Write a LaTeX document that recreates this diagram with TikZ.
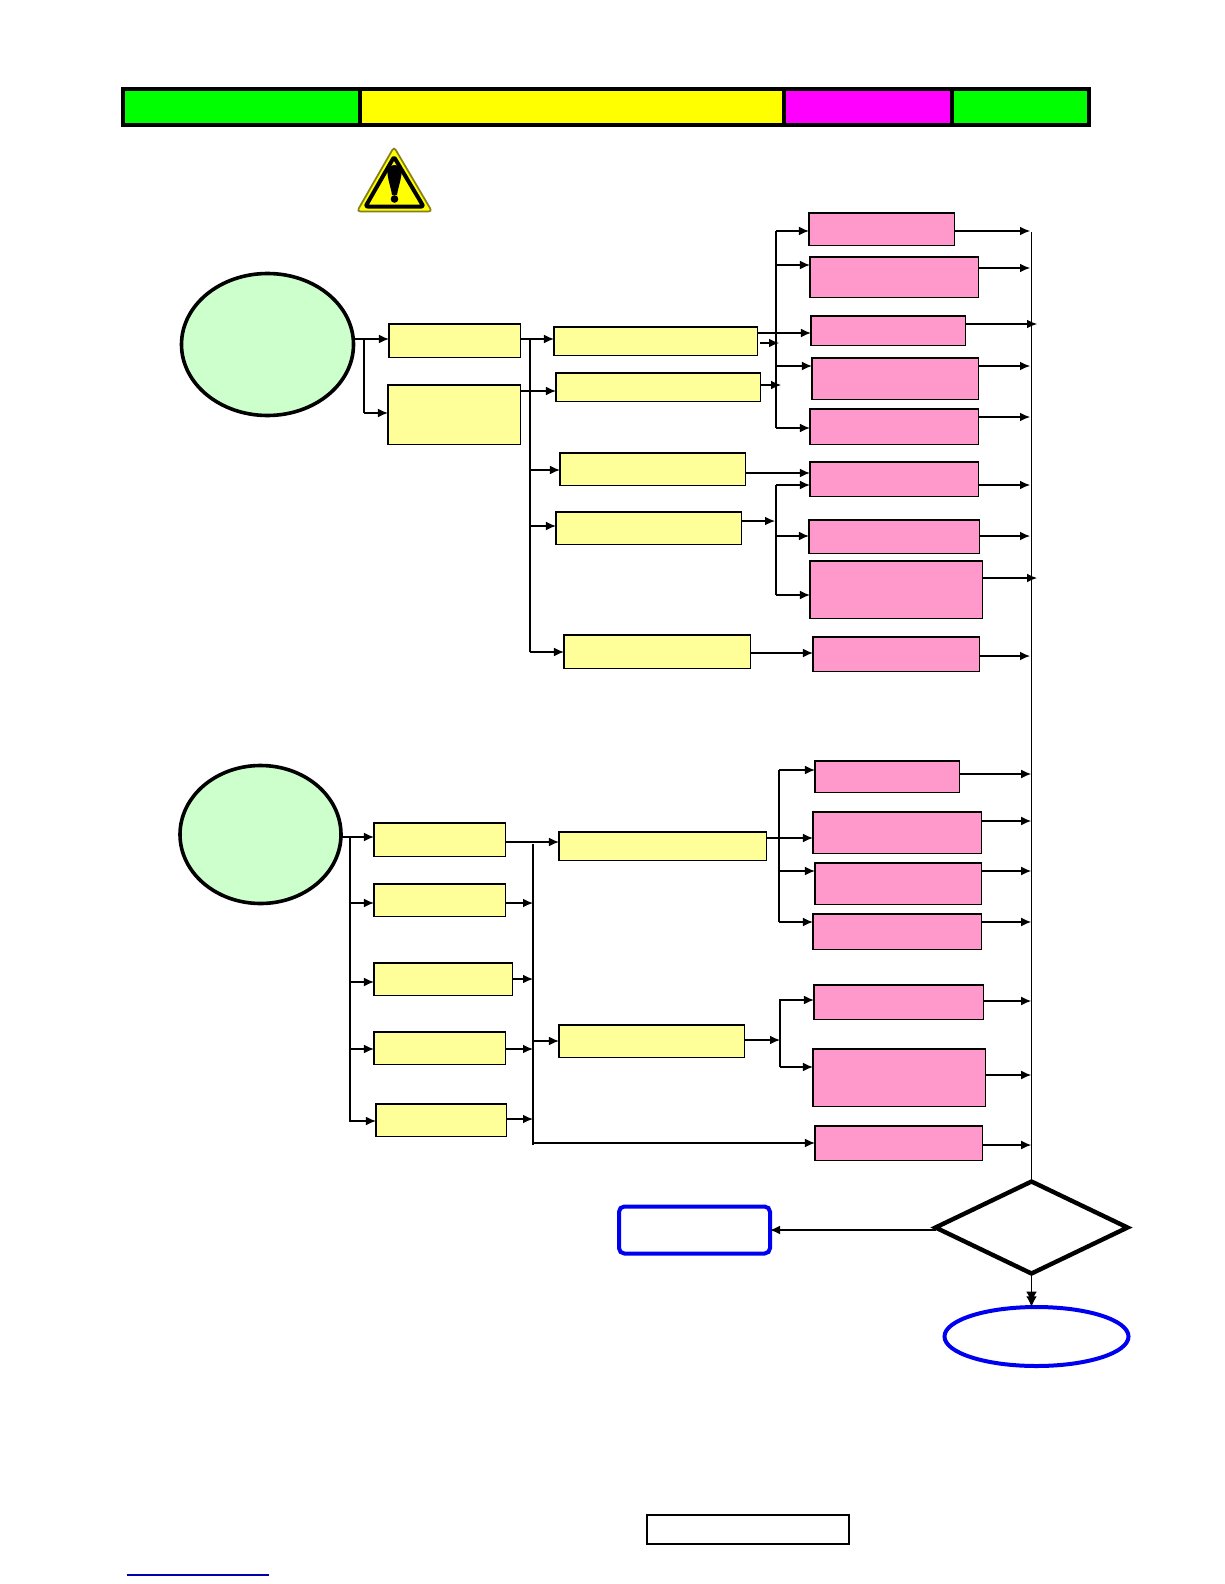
\documentclass[tikz,border=0pt]{standalone}
\usetikzlibrary{arrows.meta,shapes.geometric}
\definecolor{ybox}{HTML}{FFFF99}
\definecolor{pbox}{HTML}{FF99CC}
\definecolor{gell}{HTML}{CCFFCC}
\definecolor{lblue}{HTML}{0000F0}
\definecolor{darkline}{HTML}{0000A8}
\definecolor{olive}{HTML}{85801A}
\definecolor{hgreen}{RGB}{0,255,0}
\definecolor{hyellow}{RGB}{255,255,0}
\definecolor{hmag}{RGB}{255,0,255}
\newcommand{\bx}[6]{\node[#6,minimum width={(#4-#2-1.2)*0.75pt},minimum height={(#5-#3-1.2)*0.75pt}] (#1) at ({(#2+#4)/2+0.3},{(#3+#5)/2+0.3}) {};}
% horizontal connector at height #3 between two named things
\newcommand{\cn}[3]{\draw[arr] (#1 |- 0,#3) -- (#2 |- 0,#3);}
\tikzset{
  x=0.75pt,y=-0.75pt,
  base/.style={rectangle,draw=black,inner sep=0pt,outer sep=0pt,line width=1.05pt},
  ybx/.style={base,fill=ybox},
  pbx/.style={base,fill=pbox},
  hdr/.style={rectangle,draw=black,inner sep=0pt,outer sep=0pt,line width=3pt},
  gel/.style={ellipse,draw=black,fill=gell,inner sep=0pt,outer sep=0pt,line width=2.7pt},
  line/.style={draw=black,line width=0.85pt},
  trunk/.style={draw=black,line width=0.8pt},
  arr/.style={line,-{Latex[length=7.5pt,width=6.5pt]}},
}
\begin{document}
\begin{tikzpicture}
\useasboundingbox (0,0) rectangle (1224,1584);
% header
\bx{h1}{122}{88.5}{360}{125}{hdr,fill=hgreen}
\bx{h2}{359.5}{88.5}{784}{125}{hdr,fill=hyellow}
\bx{h3}{783.5}{88.5}{952}{125}{hdr,fill=hmag}
\bx{h4}{951.5}{88.5}{1089}{125}{hdr,fill=hgreen}
% warning sign
\draw[draw=olive,fill=hyellow,line width=1.3pt,rounded corners=2.5pt] (394,147) -- (432,211.5) -- (357,211.5) -- cycle;
\draw[draw=black,fill=hyellow,line width=3pt,line join=round,rounded corners=1.5pt] (394,157) -- (423.5,206.5) -- (365.5,206.5) -- cycle;
\fill[black] (394.5,165) .. controls (388,165) and (387,170) .. (387.5,174) .. controls (388.5,182) and (391.5,190) .. (392,195) -- (397,195) .. controls (397.5,190) and (400.5,182) .. (401.5,174) .. controls (402,170) and (401,165) .. (394.5,165) -- cycle;
\fill[black] (394.5,199) circle[radius=3.8];
% upper group
\node[gel,minimum width={172*0.75pt},minimum height={142*0.75pt}] (E1) at (267.5,344.5) {};
\bx{Y1}{388}{323}{521}{358}{ybx}
\bx{Y2}{387}{384}{521}{445}{ybx}
\bx{Y3}{553}{326}{758}{356}{ybx}
\bx{Y4}{555}{372}{761}{402}{ybx}
\bx{Y5}{559}{452}{746}{486}{ybx}
\bx{Y6}{555}{511}{742}{545}{ybx}
\bx{Y7}{563}{634}{751}{669}{ybx}
\bx{P1}{808}{212}{955}{246}{pbx}
\bx{P2}{809}{256}{979}{298}{pbx}
\bx{P3}{810}{315}{966}{346}{pbx}
\bx{P4}{811}{357}{979}{400}{pbx}
\bx{P5}{809}{408}{979}{445}{pbx}
\bx{P6}{809}{461}{979}{497}{pbx}
\bx{P7}{808}{519}{980}{554}{pbx}
\bx{P8}{809}{560}{983}{619}{pbx}
\bx{P9}{812}{636}{980}{672}{pbx}
% lower group
\node[gel,minimum width={161*0.75pt},minimum height={138*0.75pt}] (E2) at (260.5,834.5) {};
\bx{A}{373}{822}{506}{857}{ybx}
\bx{B}{373}{883}{506}{917}{ybx}
\bx{C}{373}{962}{513}{996}{ybx}
\bx{D}{373}{1031}{506}{1065}{ybx}
\bx{EE}{375}{1103}{507}{1137}{ybx}
\bx{F}{558}{831}{767}{861}{ybx}
\bx{G}{558}{1024}{745}{1058}{ybx}
\bx{Q1}{814}{760}{960}{793}{pbx}
\bx{Q2}{812}{811}{982}{854}{pbx}
\bx{Q3}{814}{862}{982}{905}{pbx}
\bx{Q4}{812}{913}{982}{950}{pbx}
\bx{Q5}{813}{984}{984}{1020}{pbx}
\bx{Q6}{812}{1048}{986}{1107}{pbx}
\bx{Q7}{814}{1125}{983}{1161}{pbx}
% end shapes
\node[diamond,draw=black,fill=white,line width=3.3pt,inner sep=0pt,outer sep=0pt,minimum width={192*0.75pt},minimum height={92*0.75pt}] (dec) at (1031.5,1227.5) {};
\node[rectangle,rounded corners=4pt,draw=lblue,fill=white,line width=3pt,inner sep=0pt,outer sep=0pt,minimum width={151*0.75pt},minimum height={47*0.75pt}] (stop) at (694.5,1230) {};
\node[ellipse,draw=lblue,fill=white,line width=3pt,inner sep=0pt,outer sep=0pt,minimum width={184*0.75pt},minimum height={59*0.75pt}] (done) at (1036.5,1336.5) {};
\node[rectangle,draw=black,fill=white,line width=1.5pt,inner sep=0pt,outer sep=0pt,minimum width={202*0.75pt},minimum height={29.5*0.75pt}] (foot) at (747.5,1529.5) {};
\coordinate (ulS) at (127,1575); \coordinate (ulE) at (269,1575);
\draw[draw=darkline,line width=1pt] (ulS) -- (ulE);
% trunks (named x positions)
\coordinate (tk) at (1031.2,0);
\coordinate (tkin) at (1030,0);
\coordinate (tkout) at (1037,0);
\coordinate (u1) at (364,0);
\coordinate (u2) at (530,0);
\coordinate (u3) at (776,0);
\coordinate (l1) at (350,0);
\coordinate (l2) at (533,0);
\coordinate (l3) at (779,0);
\coordinate (l4) at (780,0);
\draw[trunk] (tk |- 0,232) -- (tk |- dec.north);
\draw[trunk] (u1 |- 0,339) -- (u1 |- 0,413);
\draw[trunk] (u2 |- 0,339) -- (u2 |- 0,652);
\draw[trunk] (u3 |- 0,231) -- (u3 |- 0,428);
\draw[trunk] (u3 |- 0,485) -- (u3 |- 0,595);
\draw[trunk] (l1 |- 0,837) -- (l1 |- 0,1122);
\draw[draw=black,line width=1.6pt] (l2 |- 0,844) -- (l2 |- 0,1145);
\draw[trunk] (l3 |- 0,770) -- (l3 |- 0,922);
\draw[draw=black,line width=1.3pt] (l4 |- 0,999) -- (l4 |- 0,1067);
% upper connectors
\cn{E1.east}{Y1.west}{339}
\cn{u1}{Y2.west}{413}
\cn{Y1.east}{Y3.west}{339}
\cn{Y2.east}{Y4.west}{391}
\cn{u2}{Y5.west}{470}
\cn{u2}{Y6.west}{526}
\cn{u2}{Y7.west}{652}
\cn{u3}{P1.west}{231}
\cn{u3}{P2.west}{265}
\cn{Y3.east}{P3.west}{333}
\coordinate (s3) at (760,0); \coordinate (e3) at (779,0); \coordinate (e4) at (781,0); \coordinate (e6) at (775,0);
\cn{s3}{e3}{343}
\cn{u3}{P4.west}{366}
\cn{Y4.east}{e4}{385}
\cn{u3}{P5.west}{428}
\cn{Y5.east}{P6.west}{473}
\cn{u3}{P6.west}{485}
\cn{Y6.east}{e6}{521}
\cn{u3}{P7.west}{536}
\cn{u3}{P8.west}{595}
\cn{Y7.east}{P9.west}{653}
\cn{P1.east}{tkin}{231}
\cn{P2.east}{tkin}{268}
\cn{P3.east}{tkout}{324}
\cn{P4.east}{tkin}{366}
\cn{P5.east}{tkin}{417}
\cn{P6.east}{tkin}{485}
\cn{P7.east}{tkin}{536}
\cn{P8.east}{tkout}{578}
\cn{P9.east}{tkin}{656}
% lower connectors
\cn{E2.east}{A.west}{837}
\cn{l1}{B.west}{903}
\cn{l1}{C.west}{982}
\cn{l1}{D.west}{1049}
\cn{l1}{EE.west}{1121}
\cn{A.east}{F.west}{842}
\cn{B.east}{l2}{903}
\cn{C.east}{l2}{979}
\cn{D.east}{l2}{1049}
\cn{EE.east}{l2}{1119}
\cn{l2}{G.west}{1041}
\cn{l2}{Q7.west}{1143}
\cn{l3}{Q1.west}{770}
\cn{F.east}{Q2.west}{838}
\cn{l3}{Q3.west}{871}
\cn{l3}{Q4.west}{922}
\cn{G.east}{l4}{1040}
\cn{l4}{Q5.west}{1000}
\cn{l4}{Q6.west}{1067}
\cn{Q1.east}{tk}{774}
\cn{Q2.east}{tk}{821}
\cn{Q3.east}{tk}{871}
\cn{Q4.east}{tk}{922}
\cn{Q5.east}{tk}{1001}
\cn{Q6.east}{tk}{1075}
\cn{Q7.east}{tk}{1145}
% decision outputs
\draw[arr] (dec.west |- 0,1230) -- (stop.east |- 0,1230);
\draw[line,-{Latex[length=8pt,width=8pt,sep=-4.5pt]Latex[length=8pt,width=8pt]}] (dec.south) -- (dec.south |- done.north);
\end{tikzpicture}
\end{document}
